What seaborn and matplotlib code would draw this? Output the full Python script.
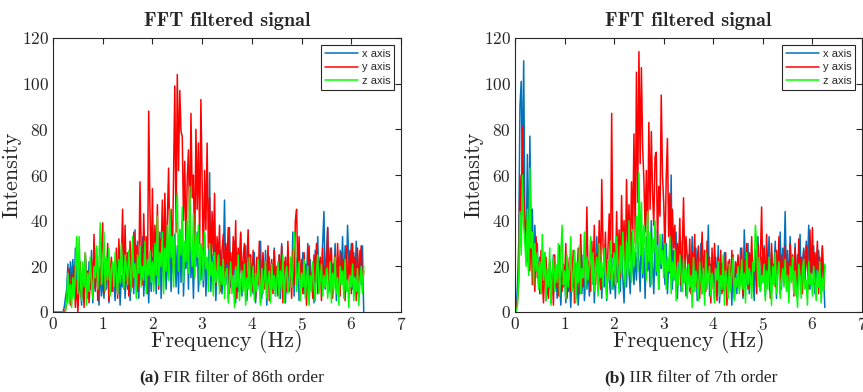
import numpy as np
import matplotlib
matplotlib.use("Agg")
import matplotlib.pyplot as plt
import seaborn as sns

# FFT magnitude, FIR filtered (86th order), step 0.025 Hz from 0 to 6.25 Hz
fir_x = [0, 0, 0, 0, 0, 0, 0, 0, 0, 2, 6, 10, 21, 8, 22, 14, 23, 9, 28, 12,
         5, 24, 11, 3, 19, 8, 25, 14, 6, 22, 10, 27, 4, 18, 9, 24, 13, 3, 20, 7,
         15, 6, 23, 10, 26, 4, 17, 9, 21, 12, 5, 24, 8, 19, 3, 16, 11, 25, 6, 20,
         10, 22, 5, 18, 27, 8, 36, 12, 31, 6, 23, 14, 33, 7, 19, 11, 26, 4, 21, 9,
         24, 12, 30, 8, 27, 15, 35, 6, 22, 18, 32, 10, 28, 14, 38, 9, 26, 17, 34, 11,
         29, 8, 36, 13, 40, 7, 25, 19, 33, 10, 38, 15, 27, 6, 31, 20, 35, 9, 24, 14,
         28, 11, 34, 7, 22, 16, 61, 9, 25, 13, 30, 5, 19, 23, 11, 27, 8, 21, 49, 12,
         24, 6, 37, 11, 20, 15, 31, 4, 26, 9, 18, 34, 7, 22, 13, 29, 5, 17, 25, 10,
         20, 8, 26, 4, 15, 22, 10, 31, 6, 19, 12, 27, 3, 16, 24, 9, 21, 14, 28, 7,
         18, 11, 25, 6, 30, 14, 22, 4, 17, 27, 9, 20, 13, 35, 7, 24, 16, 29, 5, 19,
         12, 26, 8, 21, 15, 30, 6, 23, 11, 19, 4, 27, 14, 33, 9, 22, 17, 31, 44, 10,
         25, 37, 13, 28, 8, 21, 16, 30, 5, 24, 11, 27, 18, 33, 9, 29, 14, 38, 22, 12,
         30, 10, 26, 15, 31, 8, 20, 27, 12, 29, 0]
fir_y = [0, 0, 0, 0, 0, 0, 0, 0, 0, 0, 1, 4, 9, 19, 3, 17, 8, 20, 2, 14,
         0, 11, 22, 6, 15, 2, 26, 9, 18, 4, 13, 23, 7, 34, 10, 28, 5, 19, 12, 25,
         39, 8, 21, 14, 30, 5, 17, 24, 9, 19, 12, 28, 6, 32, 15, 22, 45, 10, 38, 13,
         26, 7, 31, 18, 11, 35, 22, 29, 9, 15, 57, 24, 12, 43, 20, 33, 8, 88, 46, 16,
         54, 14, 38, 22, 47, 10, 32, 26, 49, 17, 52, 24, 40, 63, 30, 45, 20, 58, 99, 35,
         104, 62, 97, 79, 77, 40, 66, 28, 58, 71, 35, 87, 50, 60, 24, 80, 45, 74, 30, 93,
         55, 20, 62, 36, 74, 28, 50, 18, 44, 25, 52, 12, 33, 22, 38, 9, 27, 34, 15, 30,
         21, 37, 8, 26, 14, 33, 19, 40, 6, 28, 17, 35, 11, 24, 30, 7, 22, 36, 13, 25,
         9, 27, 16, 6, 24, 12, 31, 4, 19, 26, 10, 22, 15, 29, 5, 18, 23, 8, 27, 14,
         20, 7, 25, 13, 29, 4, 18, 24, 9, 31, 15, 21, 6, 27, 12, 40, 45, 17, 33, 10,
         23, 8, 26, 14, 3, 21, 29, 10, 17, 6, 25, 13, 30, 8, 19, 24, 5, 28, 11, 20,
         15, 37, 9, 22, 28, 6, 19, 25, 11, 30, 14, 7, 26, 18, 23, 5, 29, 12, 21, 27,
         8, 30, 16, 24, 5, 28, 13, 22, 29, 10, 18]
fir_z = [0, 0, 0, 0, 0, 0, 0, 0, 0, 0, 0, 5, 17, 4, 12, 2, 15, 6, 18, 33,
         8, 33, 14, 5, 22, 11, 26, 3, 17, 9, 24, 13, 6, 20, 15, 29, 10, 21, 39, 12,
         18, 35, 9, 24, 14, 28, 7, 19, 22, 11, 26, 16, 8, 23, 13, 30, 17, 10, 25, 20,
         12, 27, 18, 9, 33, 15, 21, 6, 25, 17, 29, 11, 20, 14, 31, 8, 23, 16, 27, 13,
         22, 9, 30, 16, 42, 12, 26, 20, 35, 8, 28, 18, 38, 14, 45, 24, 33, 11, 29, 40,
         52, 18, 36, 25, 46, 13, 31, 22, 40, 17, 55, 28, 20, 43, 15, 34, 24, 38, 12, 30,
         27, 14, 35, 19, 24, 9, 30, 16, 22, 7, 26, 13, 18, 25, 8, 20, 12, 23, 6, 17,
         19, 4, 14, 22, 8, 16, 2, 20, 11, 25, 5, 13, 18, 9, 21, 3, 15, 10, 24, 7,
         12, 20, 5, 17, 9, 23, 14, 3, 19, 8, 15, 22, 6, 13, 18, 4, 21, 10, 16, 7,
         14, 22, 6, 18, 10, 25, 4, 16, 20, 8, 13, 24, 11, 19, 35, 28, 9, 15, 22, 5,
         17, 11, 23, 6, 14, 20, 3, 16, 9, 22, 12, 5, 18, 25, 8, 14, 21, 7, 16, 11,
         19, 6, 13, 22, 4, 17, 10, 24, 8, 15, 3, 20, 12, 18, 6, 23, 9, 14, 2, 16,
         11, 21, 5, 15, 9, 19, 3, 13, 20, 8, 20]

# FFT magnitude, IIR filtered (7th order)
iir_x = [0, 2, 12, 30, 90, 101, 60, 110, 40, 25, 69, 18, 77, 35, 45, 15, 38, 22, 30, 12,
         24, 8, 20, 13, 26, 5, 17, 10, 22, 4, 15, 25, 9, 19, 6, 21, 12, 3, 18, 11,
         16, 4, 22, 9, 14, 2, 19, 11, 24, 6, 17, 3, 13, 21, 8, 25, 5, 15, 10, 20,
         7, 18, 12, 26, 4, 20, 33, 9, 15, 24, 6, 19, 11, 28, 5, 22, 14, 8, 25, 10,
         18, 6, 27, 13, 21, 9, 32, 15, 4, 24, 11, 29, 17, 8, 35, 20, 12, 26, 14, 31,
         22, 9, 38, 15, 28, 6, 33, 18, 25, 11, 40, 20, 8, 31, 16, 36, 10, 27, 19, 34,
         24, 12, 30, 8, 21, 17, 60, 10, 27, 14, 35, 6, 19, 26, 9, 31, 13, 22, 7, 18,
         25, 9, 20, 33, 12, 16, 28, 5, 23, 14, 30, 8, 19, 11, 26, 17, 38, 7, 21, 13,
         18, 6, 24, 12, 29, 4, 16, 21, 9, 26, 14, 7, 22, 11, 19, 3, 25, 13, 17, 8,
         23, 10, 28, 15, 6, 36, 19, 12, 30, 8, 25, 14, 21, 5, 27, 11, 33, 17, 9, 24,
         13, 29, 7, 22, 16, 33, 9, 26, 12, 20, 31, 6, 24, 17, 35, 10, 28, 19, 44, 14,
         27, 9, 33, 16, 21, 12, 30, 7, 25, 18, 34, 11, 22, 28, 14, 31, 20, 38, 10, 26,
         17, 29, 8, 24, 13, 27, 19, 11, 28, 16, 2]
iir_y = [0, 1, 5, 14, 60, 42, 81, 52, 35, 40, 22, 30, 18, 41, 12, 26, 9, 33, 15, 22,
         8, 27, 14, 4, 19, 24, 10, 6, 22, 13, 17, 3, 25, 11, 20, 7, 29, 15, 9, 21,
         12, 30, 6, 18, 24, 9, 15, 27, 4, 21, 13, 28, 8, 34, 17, 11, 25, 19, 46, 14,
         22, 9, 31, 16, 38, 12, 25, 18, 40, 10, 58, 29, 21, 35, 8, 27, 43, 15, 87, 24,
         30, 12, 44, 20, 36, 15, 51, 25, 40, 18, 58, 28, 47, 22, 57, 35, 78, 30, 105, 48,
         114, 65, 107, 72, 58, 35, 62, 28, 83, 45, 79, 52, 38, 68, 70, 30, 55, 42, 95, 60,
         48, 25, 58, 76, 33, 52, 20, 45, 28, 38, 15, 30, 22, 41, 12, 27, 50, 18, 33, 24,
         15, 32, 8, 26, 19, 34, 11, 23, 29, 6, 21, 35, 14, 27, 9, 31, 17, 24, 4, 28,
         10, 30, 18, 5, 24, 13, 27, 8, 21, 16, 26, 3, 19, 23, 9, 27, 14, 6, 22, 17,
         25, 11, 19, 28, 7, 23, 15, 30, 10, 26, 18, 33, 12, 21, 27, 8, 30, 17, 24, 46,
         14, 28, 9, 34, 18, 23, 6, 30, 15, 21, 11, 27, 17, 33, 8, 25, 19, 12, 29, 16,
         22, 9, 30, 14, 25, 7, 28, 18, 11, 32, 16, 24, 8, 27, 13, 29, 20, 10, 36, 15,
         37, 12, 26, 19, 31, 8, 24, 15, 29, 10, 20]
iir_z = [0, 0, 3, 15, 44, 25, 60, 38, 30, 20, 45, 16, 63, 28, 35, 12, 30, 18, 26, 10,
         22, 8, 34, 14, 26, 5, 19, 11, 28, 3, 17, 24, 9, 21, 13, 30, 7, 25, 38, 12,
         18, 6, 25, 11, 20, 33, 9, 16, 27, 4, 22, 13, 29, 8, 19, 15, 35, 10, 24, 14,
         21, 33, 12, 26, 9, 18, 24, 7, 30, 15, 22, 11, 28, 17, 6, 23, 14, 31, 10, 19,
         26, 12, 33, 19, 8, 29, 17, 35, 22, 11, 31, 16, 40, 24, 13, 36, 20, 28, 42, 18,
         61, 25, 48, 17, 38, 30, 14, 44, 22, 35, 12, 32, 26, 40, 18, 29, 10, 34, 21, 27,
         15, 30, 10, 24, 18, 33, 8, 22, 14, 27, 5, 20, 12, 25, 17, 9, 23, 13, 19, 6,
         21, 11, 16, 2, 24, 9, 18, 13, 5, 22, 14, 8, 19, 3, 26, 10, 15, 20, 7, 17,
         12, 4, 19, 14, 22, 7, 16, 10, 25, 3, 18, 13, 6, 21, 9, 17, 24, 5, 15, 11,
         20, 8, 14, 23, 10, 17, 4, 26, 12, 19, 15, 6, 22, 18, 38, 30, 11, 24, 9, 16,
         13, 21, 5, 18, 10, 24, 15, 3, 20, 12, 26, 8, 17, 22, 6, 14, 19, 11, 23, 9,
         16, 4, 20, 13, 24, 8, 18, 11, 2, 21, 15, 6, 19, 23, 10, 14, 3, 22, 12, 17,
         7, 20, 13, 5, 18, 11, 22, 4, 15, 9, 21]

FREQ_MAX = 6.25
series_labels = ["x axis", "y axis", "z axis"]
colors = ["#0072BD", "#FF0000", "#00FF00"]
captions = [("(a)", "FIR filter of 86th order"), ("(b)", "IIR filter of 7th order")]

sns.set_style("white")
plt.rcParams["font.family"] = "cmr10"
plt.rcParams["axes.formatter.use_mathtext"] = True
plt.rcParams["axes.edgecolor"] = "#262626"
plt.rcParams["axes.linewidth"] = 0.8

fig = plt.figure(figsize=(8.63, 3.92), dpi=100)
ax1 = fig.add_axes([53 / 863, 80 / 392, 348 / 863, 274 / 392])
ax2 = fig.add_axes([515 / 863, 80 / 392, 347 / 863, 274 / 392])


def draw_panel(ax, data):
    freq = np.linspace(0, FREQ_MAX, len(data[0]))
    for vals, lab, col in zip(data, series_labels, colors):
        sns.lineplot(x=freq, y=vals, ax=ax, color=col, lw=1.1, label=lab,
                     estimator=None, sort=False)
    ax.set_xlim(0, 7)
    ax.set_ylim(0, 120)
    ax.set_xticks(range(0, 8))
    ax.set_yticks(range(0, 121, 20))
    ax.tick_params(direction="in", length=4, width=0.8, top=True, right=True,
                   labelsize=12.5, colors="#262626", pad=3)
    ax.set_title("FFT filtered signal", family="cmb10", fontsize=14.5, pad=9)
    ax.set_xlabel("Frequency (Hz)", fontsize=16, labelpad=-2)
    ax.set_ylabel("Intensity", fontsize=16, labelpad=0)
    leg = ax.legend(loc="upper right", prop={"family": "Liberation Sans", "size": 8},
                    fancybox=False, framealpha=1, edgecolor="#262626",
                    handlelength=3.0, handletextpad=0.3, labelspacing=0.35,
                    borderpad=0.35, borderaxespad=0.6)
    leg.get_frame().set_linewidth(0.8)
    for sp in ax.spines.values():
        sp.set_visible(True)


draw_panel(ax1, [fir_x, fir_y, fir_z])
draw_panel(ax2, [iir_x, iir_y, iir_z])

# captions under each panel: bold tag followed by plain text
for xpos, (tag, text) in zip([139 / 863, 604 / 863], captions):
    t = fig.text(xpos, 0.025, tag, family="Liberation Serif", fontweight="bold",
                 fontsize=12.5, va="baseline", ha="left")
    ax1.annotate(" " + text, xy=(1, 0), xycoords=t, family="Liberation Serif",
                 fontsize=12.5, va="bottom", ha="left", annotation_clip=False)

fig.savefig("out.png", dpi=100)
